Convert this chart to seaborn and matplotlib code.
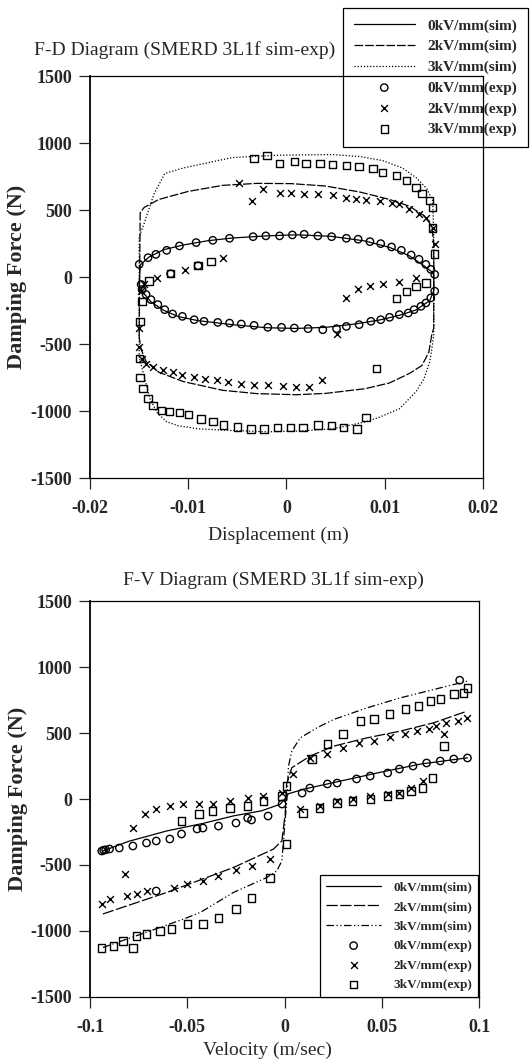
#!/usr/bin/env python3
# fd_fv_diagram.py — F-D and F-V damper diagrams (SMERD 3L1f, simulation vs experiment)
import matplotlib
matplotlib.use("Agg")
import matplotlib.pyplot as plt
import seaborn as sns
import pandas as pd

# ---------------- F-D diagram: simulated loops ----------------
fd_d0_sim = [-0.0150, -0.0149, -0.0140, -0.0125, -0.0105, -0.0080, -0.0055, -0.0020, 0.0010, 0.0045,
             0.0080, 0.0105, 0.0125, 0.0140, 0.0148, 0.0150, 0.0150, 0.0146, 0.0132, 0.0115,
             0.0095, 0.0070, 0.0040, 0.0010, -0.0020, -0.0055, -0.0090, -0.0110, -0.0125, -0.0138,
             -0.0147, -0.0150, -0.0150]
fd_f0_sim = [-50, 90, 150, 205, 240, 272, 292, 308, 316, 305,
             270, 222, 160, 85, 40, 15, -100, -175, -245, -285,
             -320, -350, -375, -383, -378, -355, -325, -295, -248, -185,
             -105, -55, -50]

fd_d2_sim = [-0.0150, -0.0149, -0.0145, -0.0130, -0.0100, -0.0065, -0.0030, 0.0005, 0.0040, 0.0075,
             0.0105, 0.0125, 0.0140, 0.0148, 0.0150, 0.0150, 0.0148, 0.0145, 0.0138, 0.0125,
             0.0105, 0.0080, 0.0040, 0.0010, -0.0030, -0.0065, -0.0105, -0.0130, -0.0143, -0.0148,
             -0.0150]
fd_f2_sim = [-450, 480, 520, 580, 640, 685, 700, 698, 680, 635,
             580, 530, 460, 380, 250, -380, -430, -560, -660, -720,
             -790, -833, -868, -878, -870, -845, -780, -710, -630, -540,
             -450]

fd_d3_sim = [-0.0150, -0.0150, -0.0145, -0.0135, -0.0124, -0.0105, -0.0089, -0.0055, -0.0010, 0.0047,
             0.0075, 0.0098, 0.0118, 0.0132, 0.0143, 0.0149, 0.0150, 0.0150, 0.0148, 0.0146,
             0.0140, 0.0132, 0.0115, 0.0095, 0.0081, 0.0047, 0.0010, -0.0020, -0.0055, -0.0089,
             -0.0110, -0.0122, -0.0132, -0.0139, -0.0147, -0.0150]
fd_f3_sim = [-600, 300, 400, 620, 773, 815, 840, 893, 910, 915,
             900, 870, 815, 743, 660, 570, 300, -430, -540, -630,
             -760, -855, -983, -1045, -1080, -1133, -1150, -1155, -1145, -1133,
             -1110, -1080, -1010, -908, -683, -600]

# ---------------- F-D diagram: experimental points ----------------
fd_d0_exp = [-0.0150, -0.0141, -0.0133, -0.0122, -0.0109, -0.0092, -0.0075, -0.0058, -0.0034, -0.0021,
             -0.0007, 0.0006, 0.0018, 0.0032, 0.0046, 0.0061, 0.0073, 0.0085, 0.0096, 0.0107,
             0.0117, 0.0127, 0.0135, 0.0142, 0.0147, 0.0151,
             0.0151, 0.0147, 0.0142, 0.0137, 0.0130, 0.0124, 0.0115, 0.0105, 0.0096, 0.0086,
             0.0074, 0.0061, 0.0051, 0.0037, 0.0022, 0.0008, -0.0005, -0.0019, -0.0033, -0.0046,
             -0.0058, -0.0070, -0.0084, -0.0094, -0.0106, -0.0116, -0.0124, -0.0131, -0.0138, -0.0143,
             -0.0147, -0.0148, -0.0118, -0.0090]
fd_f0_exp = [95, 145, 170, 200, 233, 258, 275, 290, 302, 308,
             308, 315, 320, 308, 302, 290, 283, 265, 250, 225,
             200, 165, 133, 95, 58, 20,
             -105, -155, -193, -218, -243, -268, -280, -300, -318, -330,
             -355, -368, -385, -393, -385, -380, -375, -375, -360, -350,
             -343, -338, -330, -318, -293, -275, -243, -205, -168, -130,
             -93, -55, 25, 85]

fd_d2_exp = [-0.0035, -0.0024, -0.0007, 0.0005, 0.0018, 0.0032, 0.0047, 0.0061, 0.0071, 0.0081,
             0.0095, 0.0107, 0.0115, 0.0125, 0.0135, 0.0142, 0.0149, 0.0151, -0.0048,
             0.0051, 0.0036, 0.0023, 0.0010, -0.0004, -0.0019, -0.0033, -0.0046, -0.0060, -0.0071,
             -0.0083, -0.0094, -0.0106, -0.0116, -0.0126, -0.0136, -0.0143, -0.0147, -0.0150, -0.0150,
             -0.0148, 0.0061, 0.0073, 0.0085, 0.0098, 0.0115, 0.0132, -0.0145, -0.0132, -0.0103,
             -0.0065]
fd_f2_exp = [570, 660, 630, 630, 623, 623, 615, 593, 585, 578,
             570, 555, 548, 510, 473, 443, 368, 248, 700,
             -428, -765, -818, -818, -810, -803, -803, -795, -780, -765,
             -758, -743, -728, -705, -690, -668, -645, -608, -518, -383,
             -105, -158, -90, -68, -53, -38, -8, -50, -10, 55,
             145]

fd_d3_exp = [-0.0033, -0.0020, -0.0007, 0.0008, 0.0020, 0.0034, 0.0047, 0.0061, 0.0074, 0.0088,
             0.0098, 0.0112, 0.0122, 0.0132, 0.0138, 0.0146, 0.0149, 0.0149, 0.0151,
             0.0081, 0.0072, 0.0058, 0.0046, 0.0032, 0.0017, 0.0004, -0.0009, -0.0023, -0.0036,
             -0.0050, -0.0064, -0.0075, -0.0087, -0.0100, -0.0109, -0.0119, -0.0127, -0.0136, -0.0141,
             -0.0146, -0.0149, -0.0150, -0.0149, -0.0147, 0.0092,
             0.0112, 0.0122, 0.0132, 0.0142, -0.0140, -0.0118, -0.0090, -0.0077]
fd_f3_exp = [885, 908, 848, 863, 848, 848, 840, 833, 825, 810,
             780, 758, 720, 668, 623, 570, 518, 368, 173,
             -1050, -1133, -1125, -1110, -1103, -1125, -1125, -1125, -1133, -1133,
             -1118, -1103, -1080, -1058, -1028, -1013, -1005, -998, -960, -908,
             -833, -750, -608, -330, -180, -683,
             -158, -105, -68, -45, -30, 25, 85, 115]

# ---------------- F-V diagram: simulated curves ----------------
fv_v0_sim = [-0.0934, -0.0800, -0.0606, -0.0420, -0.0263, -0.0120, -0.0023, 0.0000, 0.0020, 0.0100,
             0.0300, 0.0500, 0.0700, 0.0940]
fv_f0_sim = [-393, -320, -242, -185, -128, -90, -40, 0, 40, 75,
             140, 205, 265, 312]

fv_v2_sim = [-0.0934, -0.0606, -0.0263, -0.0058, -0.0014, 0.0003, 0.0010, 0.0037, 0.0131, 0.0251,
             0.0423, 0.0594, 0.0765, 0.0937]
fv_f2_sim = [-871, -708, -519, -380, -317, -113, 113, 237, 325, 400,
             463, 514, 577, 665]

fv_v3_sim = [-0.0934, -0.0750, -0.0520, -0.0434, -0.0263, -0.0092, -0.0040, -0.0014, -0.0006, 0.0011,
             0.0020, 0.0037, 0.0080, 0.0166, 0.0251, 0.0423, 0.0594, 0.0765, 0.0937]
fv_f3_sim = [-1125, -1030, -910, -860, -708, -595, -544, -469, -317, -15,
             250, 363, 463, 539, 602, 690, 766, 829, 892]

# ---------------- F-V diagram: experimental points ----------------
fv_v0_exp = [-0.0940, -0.0930, -0.0920, -0.0900, -0.0850, -0.0780, -0.0710, -0.0660, -0.0590, -0.0530,
             -0.0450, -0.0420, -0.0340, -0.0250, -0.0190, -0.0170, -0.0085, -0.0013, -0.0660,
             0.0090, 0.0130, 0.0220, 0.0270, 0.0370, 0.0440, 0.0530, 0.0590, 0.0660, 0.0730,
             0.0800, 0.0870, 0.0940, 0.0900]
fv_f0_exp = [-394, -388, -385, -379, -371, -356, -333, -318, -303, -265,
             -227, -220, -205, -182, -144, -159, -129, -38, -697,
             45, 83, 114, 121, 152, 174, 197, 227, 250, 273,
             288, 303, 311, 900]

fv_v2_exp = [-0.0940, -0.0900, -0.0810, -0.0760, -0.0710, -0.0570, -0.0500, -0.0420, -0.0340, -0.0250,
             -0.0170, -0.0075, -0.0820,
             -0.0780, -0.0720, -0.0660, -0.0590, -0.0520, -0.0440, -0.0370, -0.0280, -0.0190, -0.0110,
             -0.0013, 0.0044, 0.0130, 0.0220, 0.0300, 0.0380, 0.0460, 0.0540, 0.0620, 0.0680,
             0.0740, 0.0780, 0.0830, 0.0890, 0.0940, 0.0820,
             0.0080, 0.0180, 0.0270, 0.0350, 0.0440, 0.0530, 0.0590, 0.0650, 0.0710]
fv_f2_exp = [-795, -758, -735, -720, -697, -674, -644, -621, -583, -538,
             -508, -455, -568,
             -220, -114, -76, -53, -38, -38, -38, -15, 8, 23,
             45, 190, 311, 341, 386, 424, 439, 470, 492, 515,
             530, 553, 576, 591, 614, 492,
             -76, -53, -15, 0, 23, 38, 45, 83, 136]

fv_v3_exp = [-0.0940, -0.0880, -0.0830, -0.0780, -0.0760, -0.0710, -0.0640, -0.0580, -0.0500, -0.0420,
             -0.0340, -0.0250, -0.0170, -0.0075,
             -0.0530, -0.0440, -0.0370, -0.0280, -0.0190, -0.0110, -0.0013, 0.0010, 0.0010,
             0.0140, 0.0220, 0.0300, 0.0390, 0.0460, 0.0540, 0.0620, 0.0690, 0.0750, 0.0800,
             0.0870, 0.0920, 0.0940, 0.0820,
             0.0095, 0.0180, 0.0270, 0.0350, 0.0440, 0.0530, 0.0590, 0.0650, 0.0710, 0.0760]
fv_f3_exp = [-1129, -1114, -1076, -1129, -1038, -1023, -1000, -985, -947, -947,
             -901, -833, -750, -598,
             -167, -114, -91, -68, -53, -15, 23, 98, -341,
             303, 417, 492, 591, 606, 644, 682, 705, 742, 758,
             795, 803, 841, 402,
             -106, -68, -30, -15, 0, 23, 38, 61, 83, 159]

y_ticks = [-1500, -1000, -500, 0, 500, 1000, 1500]
fd_x_ticks = [-0.02, -0.01, 0, 0.01, 0.02]
fd_x_labels = ["-0.02", "-0.01", "0", "0.01", "0.02"]
fv_x_ticks = [-0.1, -0.05, 0, 0.05, 0.1]
fv_x_labels = ["-0.1", "-0.05", "0", "0.05", "0.1"]

labels_sim = ["0kV/mm(sim)", "2kV/mm(sim)", "3kV/mm(sim)"]
labels_exp = ["0kV/mm(exp)", "2kV/mm(exp)", "3kV/mm(exp)"]

sns.set_theme(style="ticks")
plt.rcParams["font.family"] = ["Liberation Serif", "DejaVu Serif"]

fig = plt.figure(figsize=(5.3, 10.63), dpi=100)
ax1 = fig.add_axes([0.170, 0.5503, 0.741, 0.378])
ax2 = fig.add_axes([0.170, 0.0621, 0.734, 0.3725])


def draw_panel(ax, sims, exps, sim_styles):
    for (x, y), lab, ls in zip(sims, labels_sim, sim_styles):
        df = pd.DataFrame({"x": x, "y": y})
        sns.lineplot(data=df, x="x", y="y", sort=False, estimator=None, ax=ax,
                     color="black", linewidth=0.9, linestyle=ls, label=lab)
    for (x, y), lab, mk in zip(exps, labels_exp, ["o", "x", "s"]):
        df = pd.DataFrame({"x": x, "y": y})
        if mk == "x":
            sns.scatterplot(data=df, x="x", y="y", ax=ax, marker="x", s=24,
                            color="black", linewidth=1.0, label=lab)
        else:
            sns.scatterplot(data=df, x="x", y="y", ax=ax, marker=mk, s=28,
                            facecolor="none", edgecolor="black", linewidth=1.0, label=lab)


draw_panel(ax1,
           [(fd_d0_sim, fd_f0_sim), (fd_d2_sim, fd_f2_sim), (fd_d3_sim, fd_f3_sim)],
           [(fd_d0_exp, fd_f0_exp), (fd_d2_exp, fd_f2_exp), (fd_d3_exp, fd_f3_exp)],
           ["-", (0, (7, 1.5)), (0, (1, 1.5))])
draw_panel(ax2,
           [(fv_v0_sim, fv_f0_sim), (fv_v2_sim, fv_f2_sim), (fv_v3_sim, fv_f3_sim)],
           [(fv_v0_exp, fv_f0_exp), (fv_v2_exp, fv_f2_exp), (fv_v3_exp, fv_f3_exp)],
           ["-", (0, (9, 2)), (0, (6, 2, 1, 2, 1, 2))])

for ax, xt, xl, xlim in [(ax1, fd_x_ticks, fd_x_labels, (-0.02, 0.02)),
                         (ax2, fv_x_ticks, fv_x_labels, (-0.1, 0.1))]:
    ax.set_xlim(*xlim)
    ax.set_ylim(-1500, 1500)
    ax.set_xticks(xt)
    ax.set_xticklabels(xl)
    ax.set_yticks(y_ticks)
    ax.set_yticklabels([str(t) for t in y_ticks])
    ax.set_facecolor("none")
    ax.tick_params(direction="out", length=8, width=0.9, labelsize=13,
                   top=False, right=False)
    ax.tick_params(axis="x", pad=8)
    ax.tick_params(axis="y", pad=5)
    for t in ax.get_xticklabels() + ax.get_yticklabels():
        t.set_fontweight("bold")
    for sp in ax.spines.values():
        sp.set_visible(True)
        sp.set_linewidth(0.9)
        sp.set_color("black")
    ax.spines["left"].set_linewidth(1.3)
    ax.set_ylabel("Damping Force (N)", fontsize=16, fontweight="bold")
    ax.yaxis.set_label_coords(-0.16, 0.5)

ax1.set_xlabel("Displacement (m)", fontsize=14)
ax1.xaxis.set_label_coords(0.48, -0.122)
ax2.set_xlabel("Velocity (m/sec)", fontsize=14)
ax2.xaxis.set_label_coords(0.455, -0.114)

fig.text(185 / 530, 1 - 50 / 1063, "F-D Diagram (SMERD 3L1f sim-exp)",
         ha="center", va="center", fontsize=14)
fig.text(273 / 530, 1 - 580 / 1063, "F-V Diagram (SMERD 3L1f sim-exp)",
         ha="center", va="center", fontsize=14)

# Legends: top one hangs over the figure edge, bottom one sits in the lower-right corner
h1, l1 = ax1.get_legend_handles_labels()
leg1 = ax1.legend(h1, l1, loc="upper left", bbox_to_anchor=(343 / 530, 1 - 8 / 1063),
                  bbox_transform=fig.transFigure, handlelength=4.0,
                  handletextpad=0.85, borderpad=0.7, labelspacing=0.45, borderaxespad=0,
                  fancybox=False, framealpha=1, facecolor="none", edgecolor="black",
                  prop={"weight": "bold", "size": 11})
leg1.get_frame().set_linewidth(0.9)
leg1.set_zorder(2.4)

h2, l2 = ax2.get_legend_handles_labels()
leg2 = ax2.legend(h2, l2, loc="lower right", bbox_to_anchor=(478 / 530, 1 - 997 / 1063),
                  bbox_transform=fig.transFigure, handlelength=4.2,
                  handletextpad=0.9, borderpad=0.45, labelspacing=0.55, borderaxespad=0,
                  fancybox=False, framealpha=1, facecolor="white", edgecolor="black",
                  prop={"weight": "bold", "size": 9.5})
leg2.get_frame().set_linewidth(0.9)

fig.savefig("out.png", dpi=100)
